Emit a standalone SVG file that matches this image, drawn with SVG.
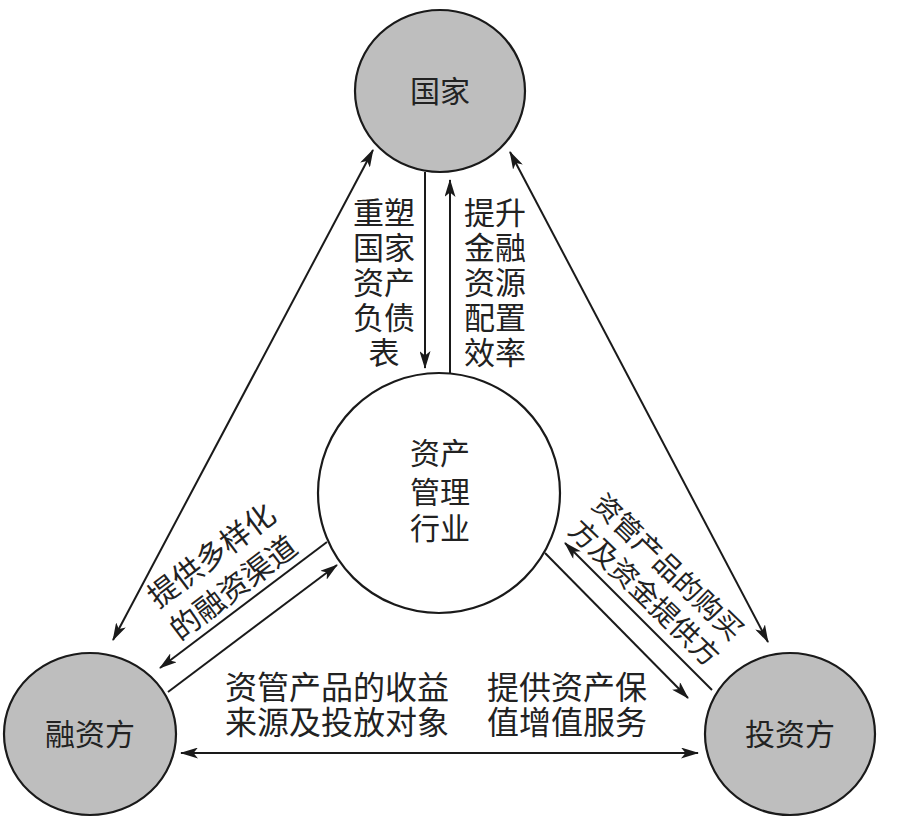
<svg xmlns="http://www.w3.org/2000/svg" width="900" height="820" viewBox="0 0 900 820">
<style>
.node{fill:#bebebe;stroke:#1a1a1a;stroke-width:2.2}
.center{fill:#ffffff;stroke:#1a1a1a;stroke-width:2.2}
text{font-family:"Noto Sans CJK SC","Noto Sans CJK JP",sans-serif;fill:#222;text-anchor:middle}
.lbl{font-size:31px}
.nl{font-size:30px}
.conn line{stroke:#1a1a1a;stroke-width:2}
</style>
<defs>
<marker id="ah" viewBox="0 0 18 11" refX="17" refY="5.5" markerWidth="18" markerHeight="11" markerUnits="userSpaceOnUse" orient="auto-start-reverse">
<path d="M0,0 L18,5.5 L0,11 L4.5,5.5 z" fill="#1a1a1a"/>
</marker>
</defs>
<rect width="900" height="820" fill="#ffffff"/>
<g class="conn" id="connectors">
<line x1="425" y1="172" x2="425" y2="368" marker-end="url(#ah)"/>
<line x1="450" y1="373" x2="450" y2="180" marker-end="url(#ah)"/>
<line x1="113" y1="640" x2="373" y2="150" marker-start="url(#ah)" marker-end="url(#ah)"/>
<line x1="768" y1="642" x2="510" y2="152" marker-start="url(#ah)" marker-end="url(#ah)"/>
<line x1="327" y1="542" x2="160" y2="668" marker-end="url(#ah)"/>
<line x1="168" y1="692" x2="337" y2="565" marker-end="url(#ah)"/>
<line x1="712" y1="690" x2="565" y2="543" marker-end="url(#ah)"/>
<line x1="545" y1="553" x2="688" y2="698" marker-end="url(#ah)"/>
<line x1="181" y1="753" x2="698" y2="753" marker-start="url(#ah)" marker-end="url(#ah)"/>
</g>
<g id="node-guojia">
<ellipse class="node" cx="440" cy="91" rx="85" ry="81"/>
<text class="nl" x="440" y="102">国家</text>
</g>
<g id="node-center">
<ellipse class="center" cx="439" cy="493" rx="121" ry="120"/>
<text class="nl" x="440" y="464">资产<tspan x="440" dy="39">管理</tspan><tspan x="440" dy="36">行业</tspan></text>
</g>
<g id="node-rongzifang">
<ellipse class="node" cx="90" cy="734" rx="86" ry="81"/>
<text class="nl" x="90" y="745">融资方</text>
</g>
<g id="node-touzifang">
<ellipse class="node" cx="790" cy="734" rx="85" ry="81"/>
<text class="nl" x="790" y="745">投资方</text>
</g>
<g id="labels">
<text class="lbl" x="384" y="224">重塑<tspan x="384" dy="35">国家</tspan><tspan x="384" dy="35">资产</tspan><tspan x="384" dy="35">负债</tspan><tspan x="384" dy="35">表</tspan></text>
<text class="lbl" x="495" y="224">提升<tspan x="495" dy="35">金融</tspan><tspan x="495" dy="35">资源</tspan><tspan x="495" dy="35">配置</tspan><tspan x="495" dy="35">效率</tspan></text>
<text class="nl" transform="translate(212,556) rotate(-37)" y="10">提供多样化<tspan x="-2" dy="39">的融资渠道</tspan></text>
<text style="font-size:28px" transform="translate(668,567) rotate(44)" y="10">资管产品的购买<tspan x="1" dy="35">方及资金提供方</tspan></text>
<text style="font-size:32px" x="337" y="699">资管产品的收益<tspan x="337" dy="35">来源及投放对象</tspan></text>
<text style="font-size:32px" x="567" y="699">提供资产保<tspan x="567" dy="35">值增值服务</tspan></text>
</g>
</svg>
